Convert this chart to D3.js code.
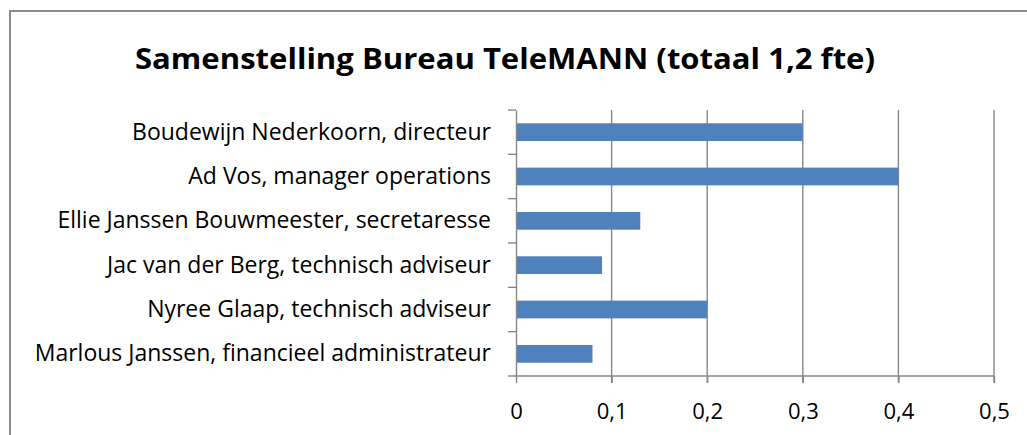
<!DOCTYPE html>
<html>
<head>
<meta charset="utf-8">
<script src="https://cdn.jsdelivr.net/npm/d3@7"></script>
<style>
  body { margin: 0; background: #fff; }
  svg { display: block; }
</style>
</head>
<body>
<div id="chart"></div>
<script>
// data
var names = [
    "Boudewijn Nederkoorn, directeur",
    "Ad Vos, manager operations",
    "Ellie Janssen Bouwmeester, secretaresse",
    "Jac van der Berg, technisch adviseur",
    "Nyree Glaap, technisch adviseur",
    "Marlous Janssen, financieel administrateur"
];
var fte = [0.3, 0.4, 0.13, 0.09, 0.2, 0.08];
var xTicks = [0, 0.1, 0.2, 0.3, 0.4, 0.5];
var title = "Samenstelling Bureau TeleMANN (totaal 1,2 fte)";

var width = 1027, height = 435;
var margin = { top: 110, right: 33, bottom: 59, left: 516 };
var gridColor = "#878787";

var svg = d3.select("#chart").append("svg")
    .attr("width", width)
    .attr("height", height);

// chart area border
svg.append("rect")
    .attr("x", 10)
    .attr("y", 11)
    .attr("width", 1030)
    .attr("height", 440)
    .attr("fill", "none")
    .attr("stroke", "#8c8c8c")
    .attr("stroke-width", 2);

svg.append("text")
    .attr("x", 135)
    .attr("y", 69)
    .attr("textLength", 740)
    .attr("lengthAdjust", "spacingAndGlyphs")
    .style("font-family", "'Open Sans', sans-serif")
    .style("font-weight", "bold")
    .style("font-size", "28px")
    .attr("fill", "#000")
    .text(title);

var x = d3.scaleLinear()
    .domain([0, 0.5])
    .range([margin.left, width - margin.right]);

var y = d3.scaleBand()
    .domain(names)
    .range([margin.top, height - margin.bottom])
    .paddingInner(0);

var g = svg.append("g");

// vertical gridlines
g.selectAll(".grid")
    .data(xTicks.slice(1))
    .enter().append("line")
    .attr("x1", function (d) { return x(d); })
    .attr("x2", function (d) { return x(d); })
    .attr("y1", margin.top)
    .attr("y2", height - margin.bottom + 7)
    .attr("stroke", gridColor)
    .attr("stroke-width", 1.4);

// bars (gap width 150%)
var barH = y.bandwidth() * 0.4;
g.selectAll(".bar")
    .data(fte)
    .enter().append("rect")
    .attr("x", x(0))
    .attr("y", function (d, i) { return y(names[i]) + (y.bandwidth() - barH) / 2; })
    .attr("width", function (d) { return x(d) - x(0); })
    .attr("height", barH)
    .attr("fill", "#4f81bd");

// x axis
var xAxis = d3.axisBottom(x)
    .tickValues(xTicks)
    .tickSize(7)
    .tickPadding(20)
    .tickFormat(function (d) { return d === 0 ? "0" : d3.format(".1f")(d).replace(".", ","); });

var gx = svg.append("g")
    .attr("transform", "translate(0," + (height - margin.bottom) + ")")
    .call(xAxis);
gx.select(".domain").attr("stroke", gridColor).attr("stroke-width", 1.4)
    .attr("d", "M" + (margin.left - 8) + ",0H" + x(0.5));
gx.selectAll(".tick line").attr("stroke", gridColor).attr("stroke-width", 1.4);
gx.selectAll(".tick text")
    .style("font-family", "'Open Sans', sans-serif")
    .style("font-size", "22px")
    .attr("fill", "#000");

// y axis
var yAxis = d3.axisLeft(y).tickSize(0).tickPadding(25);
var gy = svg.append("g")
    .attr("transform", "translate(" + margin.left + ",0)")
    .call(yAxis);
gy.select(".domain").attr("stroke", gridColor).attr("stroke-width", 1.4);
gy.selectAll(".tick text")
    .style("font-family", "'Open Sans', sans-serif")
    .style("font-size", "23px")
    .attr("fill", "#000");

// category boundary ticks
gy.selectAll(".bound")
    .data(d3.range(names.length))
    .enter().append("line")
    .attr("x1", -8)
    .attr("x2", 0)
    .attr("y1", function (i) { return y(names[i]); })
    .attr("y2", function (i) { return y(names[i]); })
    .attr("stroke", gridColor)
    .attr("stroke-width", 1.4);
</script>
</body>
</html>
